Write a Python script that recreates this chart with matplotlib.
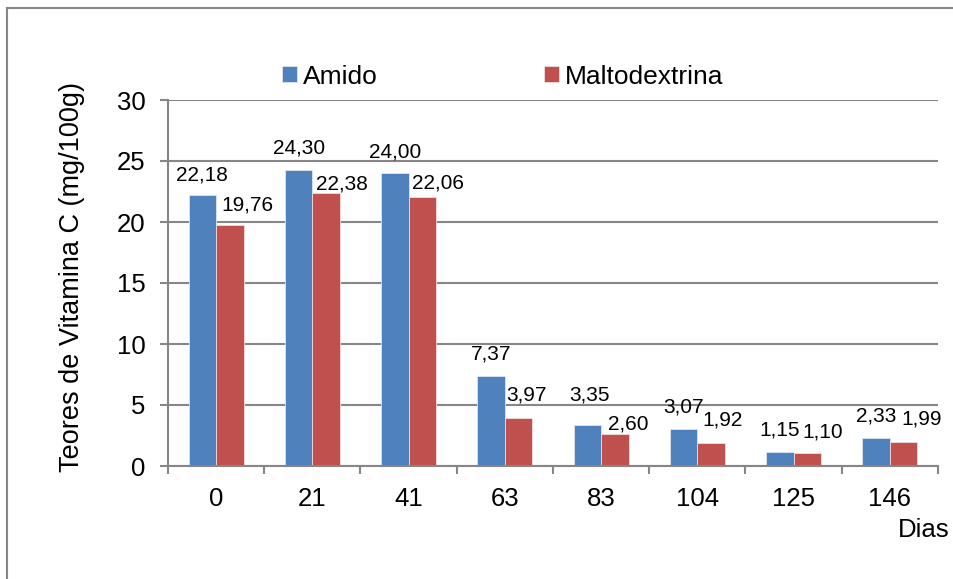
import matplotlib as mpl
mpl.use("Agg")
import matplotlib.pyplot as plt
from matplotlib.lines import Line2D
import numpy as np

plt.rcParams['font.family'] = ['Liberation Sans', 'DejaVu Sans']

dias = ["0", "21", "41", "63", "83", "104", "125", "146"]
amido = [22.18, 24.30, 24.00, 7.37, 3.35, 3.07, 1.15, 2.33]
maltodextrina = [19.76, 22.38, 22.06, 3.97, 2.60, 1.92, 1.10, 1.99]

# deslocamento dos rótulos (dx, dy) em pixels acima do topo da barra
desl_amido = [(0, 15), (0, 16), (0, 16), (0, 17), (2, 25), (0, 16), (0, 16), (0, 16)]
desl_malto = [(18, 14), (16, 3), (16, 8), (8, 17), (13, 5), (11, 17), (15, 15), (18, 17)]

azul = "#4F81BD"
vermelho = "#C0504D"
cinza = "#868686"

fig = plt.figure(figsize=(9.54, 5.79), dpi=100)
ax = fig.add_axes([168/954, 1-466/579, (938-168)/954, (466-100)/579])

x = np.arange(len(dias))
w = 0.285
b1 = ax.bar(x - w/2, amido, width=w, color=azul, edgecolor="#dfe6f0", linewidth=0.6, label="Amido", zorder=3)
b2 = ax.bar(x + w/2, maltodextrina, width=w, color=vermelho, edgecolor="#f0dcdc", linewidth=0.6, label="Maltodextrina", zorder=3)

def fmt(v):
    return f"{v:.2f}".replace(".", ",")

px = 72/100
for barras, vals, desl in [(b1, amido, desl_amido), (b2, maltodextrina, desl_malto)]:
    for r, v, (dx, dy) in zip(barras, vals, desl):
        ax.annotate(fmt(v), (r.get_x() + r.get_width()/2, v),
                    xytext=(dx*px, dy*px), textcoords="offset points",
                    ha="center", va="baseline", fontsize=15, zorder=4)

ax.set_xlim(-0.5, len(dias) - 0.5)
ax.set_ylim(0, 30)
ax.set_yticks(range(0, 31, 5))
ax.set_xticks(x)
ax.set_xticklabels(dias)
ax.set_xticks(np.arange(len(dias) + 1) - 0.5, minor=True)

ax.tick_params(axis="x", which="major", length=0, pad=15, labelsize=18.5)
ax.tick_params(axis="x", which="minor", length=5.8, width=1.5, color=cinza, direction="out")
ax.tick_params(axis="y", length=5.8, width=1.5, color=cinza, pad=10.5, labelsize=18.5)

ax.yaxis.grid(True, color=cinza, linewidth=1.5)
ax.set_axisbelow(True)
for s in ["top", "right"]:
    ax.spines[s].set_visible(False)
for s in ["left", "bottom"]:
    ax.spines[s].set_color(cinza)
    ax.spines[s].set_linewidth(1.5)
    ax.spines[s].set_zorder(5)

fig.text(72/954, 1-276.5/579, "Teores de Vitamina C (mg/100g)", rotation=90,
         ha="center", va="center", fontsize=19.5)
fig.text(950/954, 1-537/579, "Dias", ha="right", va="baseline", fontsize=18.5)

ax.legend(loc="center left", bbox_to_anchor=(282/954, 1-76.5/579), bbox_transform=fig.transFigure,
          ncol=2, frameon=False, fontsize=19, borderpad=0, borderaxespad=0,
          handlelength=0.55, handleheight=0.55, handletextpad=0.25, columnspacing=6.3)

# moldura do gráfico
fig.add_artist(Line2D([7/954, 7/954], [0, 1-8/579], color=cinza, linewidth=1.5))
fig.add_artist(Line2D([7/954, 1], [1-8/579, 1-8/579], color=cinza, linewidth=1.5))

fig.savefig("out.png", dpi=100)
